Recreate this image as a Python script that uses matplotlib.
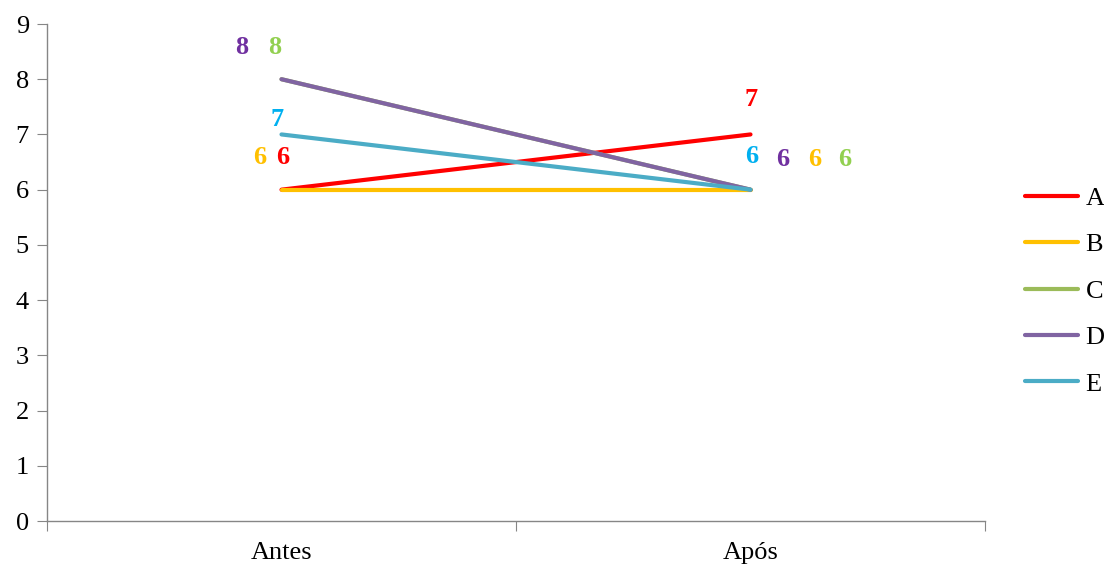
import matplotlib.pyplot as plt

# Data
categories = ["Antes", "Após"]
series = ["A", "B", "C", "D", "E"]
values = {
    "A": [6, 7],
    "B": [6, 6],
    "C": [8, 6],
    "D": [8, 6],
    "E": [7, 6],
}
line_colors = {"A": "#FF0000", "B": "#FFC000", "C": "#9BBB59", "D": "#8064A2", "E": "#4BACC6"}
label_colors = {"A": "#FF0000", "B": "#FFC000", "C": "#92D050", "D": "#7030A0", "E": "#00B0F0"}

# label offsets in points (Antes, Após)
offsets = {
    "A": [(0.7, 23), (0.7, 25)],
    "B": [(-16, 23), (46, 21.6)],
    "C": [(-5, 23), (68, 21.6)],
    "D": [(-28.8, 23), (23, 21.6)],
    "E": [(-3, 11), (0.7, 24)],
}

plt.rcParams['font.family'] = ['Liberation Serif', 'DejaVu Serif']

fig = plt.figure(figsize=(11.04, 5.65), dpi=100)
ax = fig.add_axes([47 / 1104, 44 / 565, 938 / 1104, 497 / 565])

x = list(range(len(categories)))
handles = []
for s in series:
    h, = ax.plot(x, values[s], color=line_colors[s], linewidth=3, solid_capstyle='round', label=s)
    handles.append(h)

for s in series:
    for i, v in enumerate(values[s]):
        ax.annotate(str(v), (x[i], v), xytext=offsets[s][i], textcoords='offset points',
                    ha='center', va='center', fontsize=19, fontweight='bold', color=label_colors[s])

ax.set_xlim(-0.5, 1.5)
ax.set_ylim(0, 9)
ax.set_yticks(range(10))
ax.tick_params(axis='y', labelsize=19, length=7, color='#868686', pad=6)
ax.set_xticks([-0.5, 0.5, 1.5])
ax.set_xticklabels([])
ax.tick_params(axis='x', which='major', length=7, color='#868686')
ax.set_xticks(x, minor=True)
ax.set_xticklabels(categories, minor=True)
ax.tick_params(axis='x', which='minor', length=0, labelsize=19, pad=15)

for sp in ['top', 'right']:
    ax.spines[sp].set_visible(False)
for sp in ['left', 'bottom']:
    ax.spines[sp].set_color('#868686')
    ax.spines[sp].set_linewidth(1)

fig.legend(handles=handles, labels=series, loc='center left', bbox_to_anchor=(1025 / 1104, 1 - 291 / 565),
           frameon=False, fontsize=19, handlelength=2.0, labelspacing=0.87, handletextpad=0.3,
           borderpad=0, borderaxespad=0)

fig.savefig("out.png", dpi=100)
